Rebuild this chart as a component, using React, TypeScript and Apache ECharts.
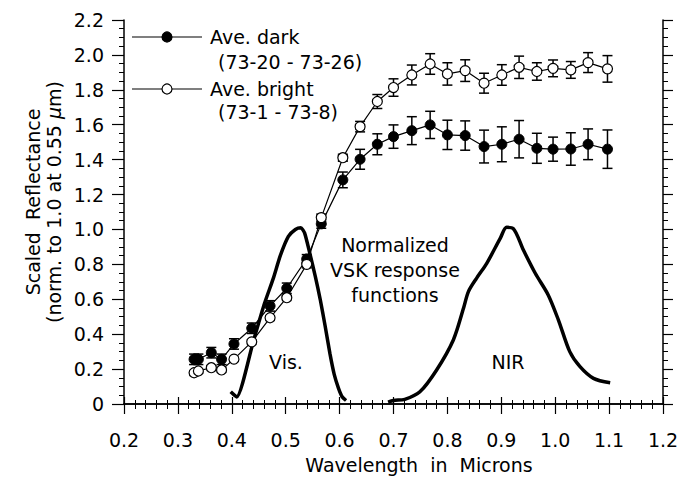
import React, { useEffect, useRef } from "react";
import * as echarts from "echarts";

const wavelengths = [0.330, 0.338, 0.362, 0.381, 0.404, 0.437, 0.471, 0.502, 0.539, 0.566, 0.606, 0.638, 0.670, 0.700, 0.734, 0.768, 0.800, 0.833, 0.868, 0.901, 0.933, 0.966, 0.996, 1.029, 1.061, 1.097];
const darkValues = [0.256, 0.256, 0.294, 0.256, 0.344, 0.434, 0.562, 0.663, 0.831, 1.032, 1.284, 1.402, 1.488, 1.532, 1.566, 1.599, 1.542, 1.538, 1.475, 1.488, 1.517, 1.465, 1.460, 1.461, 1.488, 1.460];
const darkErrors = [0.03, 0.03, 0.03, 0.03, 0.03, 0.03, 0.03, 0.03, 0.025, 0.025, 0.045, 0.057, 0.06, 0.067, 0.08, 0.078, 0.084, 0.084, 0.094, 0.10, 0.107, 0.086, 0.069, 0.093, 0.088, 0.11];
const brightValues = [0.179, 0.189, 0.208, 0.195, 0.257, 0.356, 0.494, 0.609, 0.800, 1.068, 1.411, 1.589, 1.733, 1.813, 1.885, 1.948, 1.891, 1.910, 1.838, 1.885, 1.929, 1.905, 1.923, 1.914, 1.956, 1.920];
const brightErrors = [0.01, 0.01, 0.01, 0.01, 0.01, 0.01, 0.01, 0.01, 0.02, 0.02, 0.02, 0.03, 0.04, 0.05, 0.057, 0.059, 0.064, 0.062, 0.057, 0.059, 0.064, 0.05, 0.048, 0.048, 0.057, 0.076];

const visX = [0.398, 0.409, 0.44, 0.46, 0.477, 0.49, 0.505, 0.518, 0.528, 0.535, 0.545, 0.555, 0.564, 0.573, 0.582, 0.59, 0.598, 0.605, 0.612];
const visY = [0.07, 0.04, 0.36, 0.57, 0.72, 0.85, 0.96, 1.0, 1.01, 0.98, 0.86, 0.73, 0.6, 0.45, 0.29, 0.17, 0.09, 0.04, 0.02];
const nirX = [0.69, 0.70, 0.721, 0.749, 0.78, 0.811, 0.83, 0.839, 0.854, 0.873, 0.898, 0.91, 0.922, 0.941, 0.963, 0.987, 1.006, 1.027, 1.046, 1.071, 1.102];
const nirY = [0.01, 0.02, 0.027, 0.07, 0.195, 0.367, 0.55, 0.644, 0.72, 0.806, 0.949, 1.012, 1.006, 0.882, 0.749, 0.625, 0.481, 0.3, 0.214, 0.147, 0.122];

const xTickFormat = (v: number) => v.toFixed(1);
const yTickFormat = (v: number) => (Math.abs(v) < 1e-9 ? "0" : v.toFixed(1));

const FONT = "DejaVu Sans";

function errorBarRenderer(params: any, api: any) {
  const x = api.value(0);
  const lo = api.value(1);
  const hi = api.value(2);
  const top = api.coord([x, hi]);
  const bot = api.coord([x, lo]);
  const w = 5;
  const style = { stroke: "#000", lineWidth: 1.5 };
  return {
    type: "group",
    children: [
      { type: "line", shape: { x1: top[0], y1: top[1], x2: bot[0], y2: bot[1] }, style },
      { type: "line", shape: { x1: top[0] - w, y1: top[1], x2: top[0] + w, y2: top[1] }, style },
      { type: "line", shape: { x1: bot[0] - w, y1: bot[1], x2: bot[0] + w, y2: bot[1] }, style },
    ],
  };
}

export default function App() {
  const ref = useRef<HTMLDivElement>(null);
  useEffect(() => {
    if (!ref.current) return;
    const chart = echarts.init(ref.current, null, { renderer: "svg" });
    const darkData = wavelengths.map((x, i) => [x, darkValues[i]]);
    const brightData = wavelengths.map((x, i) => [x, brightValues[i]]);
    const darkErr = wavelengths.map((x, i) => [x, darkValues[i] - darkErrors[i], darkValues[i] + darkErrors[i]]);
    const brightErr = wavelengths.map((x, i) => [x, brightValues[i] - brightErrors[i], brightValues[i] + brightErrors[i]]);
    const visData = visX.map((x, i) => [x, visY[i]]);
    const nirData = nirX.map((x, i) => [x, nirY[i]]);

    const axisLine = { show: true, lineStyle: { color: "#000", width: 1.5 } };
    const baseLabel = { color: "#000", fontFamily: FONT, fontSize: 19 };

    const legendItems: any[] = [];
    const legendRow = (y: number, filled: boolean) => {
      legendItems.push({ type: "line", shape: { x1: 132, y1: y, x2: 202, y2: y }, style: { stroke: "#000", lineWidth: 1.2 } });
      legendItems.push({ type: "circle", shape: { cx: 167, cy: y, r: 5 }, style: { fill: filled ? "#000" : "#fff", stroke: "#000", lineWidth: 1.2 } });
    };
    legendRow(37, true);
    legendRow(89, false);
    const txt = (text: string, x: number, y: number, align: string = "left", size = 19) => ({
      type: "text",
      x,
      y,
      style: { text, fill: "#000", font: `${size}px "${FONT}"`, textAlign: align, textVerticalAlign: "middle" },
    });

    chart.setOption({
      animation: false,
      backgroundColor: "#fff",
      grid: { left: 124, right: 26, top: 20, bottom: 74, containLabel: false },
      xAxis: [
        {
          type: "value", min: 0.2, max: 1.2, interval: 0.1, position: "bottom",
          axisLine, axisTick: { show: true, length: 10, lineStyle: { color: "#000", width: 1.2 } },
          minorTick: { show: true, splitNumber: 5, length: 5, lineStyle: { color: "#000", width: 1 } },
          splitLine: { show: false },
          axisLabel: { ...baseLabel, margin: 26, formatter: xTickFormat },
        },
        {
          type: "value", min: 0.2, max: 1.2, interval: 0.1, position: "top",
          axisLine, axisTick: { show: true, length: 7, lineStyle: { color: "#000", width: 1.2 } },
          minorTick: { show: true, splitNumber: 5, length: 4, lineStyle: { color: "#000", width: 1 } },
          splitLine: { show: false }, axisLabel: { show: false },
        },
      ],
      yAxis: [
        {
          type: "value", min: 0, max: 2.2, interval: 0.2, position: "left",
          axisLine, axisTick: { show: true, length: 12, lineStyle: { color: "#000", width: 1.2 } },
          minorTick: { show: true, splitNumber: 4, length: 5, lineStyle: { color: "#000", width: 1 } },
          splitLine: { show: false },
          axisLabel: { ...baseLabel, margin: 20, formatter: yTickFormat },
        },
        {
          type: "value", min: 0, max: 2.2, interval: 0.2, position: "right",
          axisLine, axisTick: { show: true, length: 10, lineStyle: { color: "#000", width: 1.2 } },
          minorTick: { show: true, splitNumber: 4, length: 5, lineStyle: { color: "#000", width: 1 } },
          splitLine: { show: false }, axisLabel: { show: false },
        },
      ],
      series: [
        {
          name: "Vis.", type: "line", data: visData, showSymbol: false, symbol: "none", smooth: 0.2,
          lineStyle: { color: "#000", width: 3.5 }, z: 2,
        },
        {
          name: "NIR", type: "line", data: nirData, showSymbol: false, symbol: "none", smooth: 0.3,
          lineStyle: { color: "#000", width: 3.5 }, z: 2,
        },
        { name: "dark err", type: "custom", renderItem: errorBarRenderer, data: darkErr, encode: { x: 0, y: [1, 2] }, z: 3 },
        { name: "bright err", type: "custom", renderItem: errorBarRenderer, data: brightErr, encode: { x: 0, y: [1, 2] }, z: 3 },
        {
          name: "Ave. dark", type: "line", data: darkData, symbol: "circle", symbolSize: 10,
          lineStyle: { color: "#000", width: 1.2 }, itemStyle: { color: "#000", borderColor: "#000", borderWidth: 1 }, z: 5,
        },
        {
          name: "Ave. bright", type: "line", data: brightData, symbol: "circle", symbolSize: 10,
          lineStyle: { color: "#000", width: 1.2 }, itemStyle: { color: "#fff", borderColor: "#000", borderWidth: 1.2 }, z: 5,
        },
      ],
      graphic: [
        ...legendItems,
        txt("Ave. dark", 210, 37),
        txt("(73-20 - 73-26)", 218, 62),
        txt("Ave. bright", 210, 89),
        txt("(73-1 - 73-8)", 218, 112),
        txt("Normalized", 395, 245, "center"),
        txt("VSK response", 395, 270, "center"),
        txt("functions", 395, 295, "center"),
        txt("Vis.", 286, 362, "center"),
        txt("NIR", 508, 362, "center"),
        txt("Wavelength  in  Microns", 419, 465, "center"),
        {
          type: "text", x: 33, y: 202, rotation: Math.PI / 2,
          style: { text: "Scaled  Reflectance", fill: "#000", font: `19px "${FONT}"`, textAlign: "center", textVerticalAlign: "middle" },
        },
        {
          type: "text", x: 54, y: 202, rotation: Math.PI / 2,
          style: {
            text: "{a|(norm. to 1.0 at 0.55 }{b|\u03BC}{a|m)}",
            fill: "#000", textAlign: "center", textVerticalAlign: "middle",
            rich: {
              a: { fontFamily: FONT, fontSize: 19, fill: "#000" },
              b: { fontFamily: FONT, fontSize: 19, fontStyle: "italic", fill: "#000" },
            },
          },
        },
      ],
    });
    return () => chart.dispose();
  }, []);
  return <div ref={ref} style={{ position: "fixed", left: 0, top: 0, width: 689, height: 478, background: "#fff" }} />;
}
